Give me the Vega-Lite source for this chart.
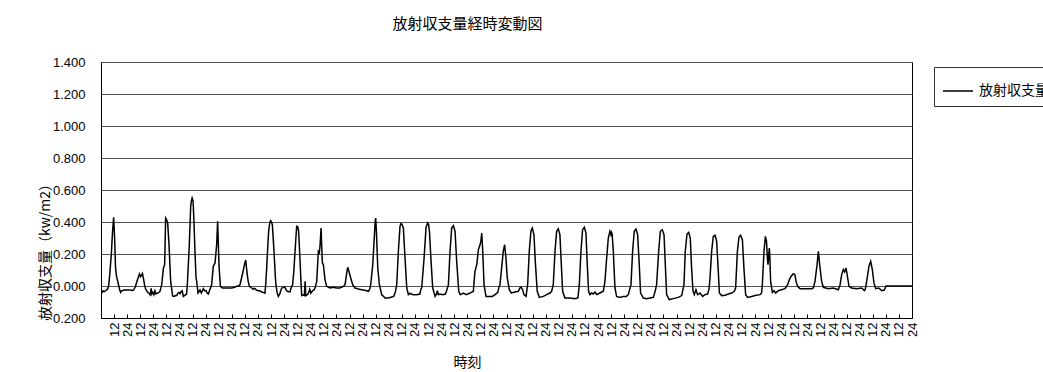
{
  "$schema": "https://vega.github.io/schema/vega-lite/v6.json",
  "width": 811,
  "height": 256,
  "autosize": {"type": "none"},
  "padding": {"left": 101, "top": 62, "right": 131, "bottom": 54},
  "background": "#ffffff",
  "title": {
    "text": "放射収支量経時変動図",
    "font": "Noto Sans CJK JP",
    "fontSize": 15,
    "fontWeight": "normal",
    "color": "#000000",
    "anchor": "middle",
    "baseline": "bottom",
    "offset": 9,
    "dx": -39
  },
  "data": {
    "values": [
      {"t":0,"v":-0.035},{"t":1,"v":-0.04},{"t":2,"v":-0.03},{"t":3,"v":-0.035},{"t":5,"v":-0.025},{"t":6,"v":-0.02},{"t":7,"v":0.0},{"t":8,"v":0.07},{"t":9.5,"v":0.2},{"t":10.5,"v":0.33},{"t":11.6,"v":0.43},{"t":12.5,"v":0.3},{"t":13.3,"v":0.12},{"t":14,"v":0.07},{"t":15,"v":0.04},{"t":16,"v":0.01},{"t":17,"v":-0.02},{"t":18,"v":-0.04},{"t":19,"v":-0.03},{"t":21,"v":-0.025},{"t":24,"v":-0.025},
      {"t":26,"v":-0.025},{"t":29,"v":-0.028},{"t":30,"v":-0.025},{"t":31.5,"v":-0.005},{"t":33,"v":0.03},{"t":34.5,"v":0.06},{"t":35.3,"v":0.075},{"t":36.2,"v":0.058},{"t":37,"v":0.065},{"t":38,"v":0.078},{"t":39,"v":0.045},{"t":40,"v":0.005},{"t":41,"v":-0.02},{"t":42,"v":-0.03},{"t":43,"v":-0.04},{"t":44,"v":-0.045},{"t":45,"v":-0.055},{"t":45.5,"v":-0.04},{"t":46,"v":-0.015},{"t":46.6,"v":-0.05},{"t":47.5,"v":-0.04},{"t":48.5,"v":-0.055},{"t":49.5,"v":-0.03},{"t":50.5,"v":-0.05},{"t":52,"v":-0.045},{"t":54,"v":-0.035},
      {"t":55.7,"v":0.008},{"t":57.2,"v":0.11},{"t":58.4,"v":0.133},{"t":59.3,"v":0.425},{"t":60.5,"v":0.41},{"t":61.2,"v":0.39},{"t":62.4,"v":0.26},{"t":63.9,"v":0.03},{"t":65.7,"v":-0.0625},{"t":67,"v":-0.065},{"t":68.5,"v":-0.06},{"t":69.5,"v":-0.06},{"t":70.5,"v":-0.045},{"t":71.5,"v":-0.04},{"t":72.5,"v":-0.048},{"t":73.5,"v":-0.035},{"t":74.5,"v":-0.03},{"t":75.5,"v":-0.065},{"t":76.5,"v":-0.06},{"t":77.5,"v":-0.055},{"t":78.5,"v":-0.05},
      {"t":79.2,"v":0.008},{"t":81,"v":0.258},{"t":82.3,"v":0.5},{"t":82.9,"v":0.53},{"t":83.6,"v":0.55},{"t":84.5,"v":0.53},{"t":85.3,"v":0.4},{"t":86.2,"v":0.217},{"t":87.2,"v":0.05},{"t":87.8,"v":0.029},{"t":89,"v":-0.044},{"t":90,"v":-0.035},{"t":90.8,"v":-0.025},{"t":92,"v":-0.044},{"t":93,"v":-0.03},{"t":93.9,"v":-0.017},{"t":95,"v":-0.03},{"t":96.3,"v":-0.029},{"t":97.5,"v":-0.045},{"t":98.5,"v":-0.05},{"t":99.5,"v":-0.03},
      {"t":101.5,"v":0.008},{"t":103,"v":0.123},{"t":104.6,"v":0.144},{"t":106.1,"v":0.258},{"t":107,"v":0.404},{"t":108.3,"v":0.123},{"t":109.5,"v":-0.002},{"t":111.3,"v":-0.0125},{"t":113,"v":-0.012},{"t":115.3,"v":-0.0125},{"t":118,"v":-0.012},{"t":119.8,"v":-0.0125},{"t":122,"v":-0.01},{"t":124.5,"v":-0.002},
      {"t":126,"v":0.0},{"t":127.5,"v":0.008},{"t":130,"v":0.081},{"t":131.5,"v":0.13},{"t":132.7,"v":0.1625},{"t":134,"v":0.081},{"t":135,"v":0.03},{"t":136.1,"v":-0.002},{"t":138.2,"v":-0.0125},{"t":139.5,"v":-0.02},{"t":140.5,"v":-0.015},{"t":141.3,"v":-0.017},{"t":142.5,"v":-0.025},{"t":144.3,"v":-0.029},{"t":145.5,"v":-0.03},
      {"t":147.4,"v":-0.0375},{"t":149,"v":-0.04},{"t":150.4,"v":-0.044},{"t":151.2,"v":0.02},{"t":152,"v":0.1125},{"t":153,"v":0.25},{"t":153.8,"v":0.342},{"t":154.7,"v":0.39},{"t":155.6,"v":0.408},{"t":156.4,"v":0.4},{"t":157.2,"v":0.383},{"t":158.7,"v":0.217},{"t":160,"v":0.05},{"t":160.5,"v":0.008},{"t":161.5,"v":-0.04},{"t":162.7,"v":-0.065},{"t":164,"v":-0.05},{"t":165.7,"v":-0.0125},{"t":167,"v":-0.01},{"t":168.5,"v":-0.005},{"t":170.3,"v":-0.029},{"t":171.5,"v":-0.035},{"t":173.4,"v":-0.0375},
      {"t":174.5,"v":-0.01},{"t":175.8,"v":0.008},{"t":177,"v":0.1},{"t":178,"v":0.217},{"t":179.5,"v":0.373},{"t":180.5,"v":0.37},{"t":181.3,"v":0.342},{"t":182.5,"v":0.175},{"t":183.3,"v":0.05},{"t":184.1,"v":-0.06},{"t":185.5,"v":-0.055},{"t":186.5,"v":-0.058},{"t":187.3,"v":0.03},{"t":187.8,"v":-0.06},{"t":189,"v":-0.055},{"t":190,"v":-0.05},{"t":191.5,"v":-0.02},{"t":192.5,"v":-0.045},{"t":194,"v":-0.03},{"t":195.5,"v":-0.025},
      {"t":196.5,"v":-0.01},{"t":197.9,"v":0.029},{"t":199.4,"v":0.217},{"t":200.3,"v":0.21},{"t":201,"v":0.258},{"t":201.9,"v":0.3625},{"t":202.4,"v":0.258},{"t":203.1,"v":0.144},{"t":204,"v":0.133},{"t":205.5,"v":0.04},{"t":207,"v":-0.002},{"t":210,"v":-0.0125},{"t":213,"v":-0.008},{"t":216,"v":-0.0125},{"t":219,"v":-0.0125},{"t":222.4,"v":-0.002},
      {"t":223.9,"v":0.008},{"t":225.4,"v":0.081},{"t":226.3,"v":0.117},{"t":227.6,"v":0.0875},{"t":229.1,"v":0.05},{"t":230.9,"v":0.008},{"t":233,"v":-0.0125},{"t":236.1,"v":-0.019},{"t":239.2,"v":-0.023},{"t":242,"v":-0.027},{"t":245.3,"v":-0.033},
      {"t":246.5,"v":-0.02},{"t":247.4,"v":0.008},{"t":249.3,"v":0.133},{"t":250.5,"v":0.279},{"t":251.5,"v":0.4},{"t":252,"v":0.425},{"t":252.6,"v":0.35},{"t":253,"v":0.279},{"t":253.9,"v":0.1125},{"t":255.4,"v":0.008},{"t":257.5,"v":-0.054},{"t":260.6,"v":-0.075},{"t":263.5,"v":-0.075},{"t":266,"v":-0.07},{"t":268.5,"v":-0.065},
      {"t":270,"v":-0.04},{"t":271.3,"v":0.008},{"t":272.8,"v":0.217},{"t":274.3,"v":0.373},{"t":275.2,"v":0.39},{"t":275.9,"v":0.3875},{"t":277.4,"v":0.3625},{"t":278.9,"v":0.175},{"t":280.5,"v":-0.0125},{"t":282,"v":-0.054},{"t":283.5,"v":-0.045},{"t":284.5,"v":-0.05},{"t":286.6,"v":-0.054},{"t":289.5,"v":-0.054},{"t":292.5,"v":-0.05},
      {"t":293.5,"v":-0.02},{"t":294.2,"v":-0.0125},{"t":296.4,"v":0.175},{"t":298.2,"v":0.367},{"t":299.7,"v":0.394},{"t":300.5,"v":0.385},{"t":301.3,"v":0.342},{"t":302.8,"v":0.154},{"t":304.3,"v":-0.0125},{"t":306.5,"v":-0.065},{"t":307.8,"v":-0.05},{"t":308.6,"v":-0.029},{"t":309.5,"v":-0.054},{"t":311,"v":-0.05},{"t":313.5,"v":-0.054},{"t":316,"v":-0.05},
      {"t":317.5,"v":-0.02},{"t":318.7,"v":0.008},{"t":320.2,"v":0.217},{"t":321.7,"v":0.3625},{"t":323.3,"v":0.377},{"t":324.8,"v":0.342},{"t":326.3,"v":0.154},{"t":328.2,"v":-0.033},{"t":329.5,"v":-0.054},{"t":331,"v":-0.05},{"t":332.5,"v":-0.045},{"t":335,"v":-0.054},{"t":338.6,"v":-0.044},{"t":341.6,"v":-0.033},
      {"t":342.3,"v":0.03},{"t":343.1,"v":0.092},{"t":344.7,"v":0.133},{"t":346.2,"v":0.227},{"t":347.7,"v":0.258},{"t":348.5,"v":0.28},{"t":349.3,"v":0.331},{"t":350.2,"v":0.217},{"t":351.4,"v":0.008},{"t":353.2,"v":-0.065},{"t":356,"v":-0.065},{"t":359,"v":-0.065},{"t":361.5,"v":-0.054},{"t":364,"v":-0.04},
      {"t":365,"v":-0.01},{"t":366,"v":0.008},{"t":367.5,"v":0.11},{"t":369,"v":0.217},{"t":370.3,"v":0.258},{"t":371.5,"v":0.175},{"t":372.7,"v":0.05},{"t":374.6,"v":-0.023},{"t":376.5,"v":-0.044},{"t":378,"v":-0.04},{"t":379.8,"v":-0.0375},{"t":382.8,"v":-0.033},{"t":384.5,"v":-0.01},{"t":385.5,"v":-0.008},{"t":386.8,"v":-0.023},{"t":388,"v":-0.054},{"t":389.9,"v":-0.065},
      {"t":391.4,"v":0.008},{"t":392.9,"v":0.217},{"t":394.4,"v":0.342},{"t":395.7,"v":0.3625},{"t":397.2,"v":0.321},{"t":398.4,"v":0.154},{"t":400.2,"v":-0.033},{"t":402.1,"v":-0.071},{"t":405.8,"v":-0.065},{"t":408.8,"v":-0.054},{"t":411.9,"v":-0.044},{"t":413.4,"v":-0.033},
      {"t":414.9,"v":0.008},{"t":416.5,"v":0.217},{"t":418,"v":0.342},{"t":419.5,"v":0.358},{"t":421,"v":0.321},{"t":422.3,"v":0.133},{"t":423.5,"v":-0.033},{"t":425.6,"v":-0.075},{"t":430.2,"v":-0.075},{"t":434.8,"v":-0.079},{"t":437.5,"v":-0.075},
      {"t":438.8,"v":0.008},{"t":440.3,"v":0.217},{"t":441.8,"v":0.352},{"t":443.4,"v":0.367},{"t":444.9,"v":0.331},{"t":446.1,"v":0.133},{"t":447.3,"v":-0.033},{"t":448.5,"v":-0.054},{"t":450.1,"v":-0.044},{"t":451.6,"v":-0.05},{"t":453.2,"v":-0.038},{"t":454.8,"v":-0.054},{"t":457.7,"v":-0.044},{"t":460.8,"v":-0.033},
      {"t":462.3,"v":0.029},{"t":463.9,"v":0.175},{"t":465.4,"v":0.3},{"t":466.9,"v":0.342},{"t":467.8,"v":0.321},{"t":468.3,"v":0.335},{"t":468.9,"v":0.325},{"t":470,"v":0.217},{"t":471.5,"v":-0.0125},{"t":473,"v":-0.065},{"t":476,"v":-0.071},{"t":479.1,"v":-0.065},{"t":482,"v":-0.065},{"t":483.7,"v":-0.054},
      {"t":486.2,"v":0.008},{"t":487.7,"v":0.217},{"t":489.2,"v":0.342},{"t":490.8,"v":0.356},{"t":492.3,"v":0.321},{"t":493.8,"v":0.133},{"t":495,"v":-0.044},{"t":497.5,"v":-0.075},{"t":500.5,"v":-0.079},{"t":503.6,"v":-0.075},{"t":506.7,"v":-0.071},
      {"t":508.5,"v":-0.03},{"t":509.7,"v":0.008},{"t":511.6,"v":0.217},{"t":513.1,"v":0.342},{"t":514.9,"v":0.352},{"t":516.5,"v":0.321},{"t":517.7,"v":0.133},{"t":518.9,"v":-0.054},{"t":521.3,"v":-0.085},{"t":525,"v":-0.079},{"t":529.6,"v":-0.071},{"t":532.7,"v":-0.06},
      {"t":534.8,"v":0.008},{"t":536,"v":0.217},{"t":537.6,"v":0.325},{"t":539.1,"v":0.335},{"t":540.6,"v":0.3},{"t":541.8,"v":0.112},{"t":543.1,"v":-0.033},{"t":544.3,"v":-0.054},{"t":545.8,"v":-0.023},{"t":547.3,"v":-0.054},{"t":549.5,"v":-0.044},{"t":552,"v":-0.065},
      {"t":554.1,"v":-0.054},{"t":556.5,"v":-0.05},{"t":557.8,"v":-0.02},{"t":558.7,"v":0.05},{"t":560.2,"v":0.217},{"t":561.7,"v":0.31},{"t":563.3,"v":0.317},{"t":564.8,"v":0.279},{"t":566.3,"v":0.092},{"t":567.3,"v":-0.044},{"t":569.4,"v":-0.06},{"t":572.5,"v":-0.058},{"t":575.5,"v":-0.05},{"t":578.6,"v":-0.044},{"t":581,"v":-0.033},
      {"t":582.2,"v":-0.0125},{"t":583.8,"v":0.217},{"t":585.3,"v":0.306},{"t":586.8,"v":0.317},{"t":588.4,"v":0.29},{"t":589.9,"v":0.102},{"t":591.4,"v":-0.054},{"t":593.2,"v":-0.071},{"t":597,"v":-0.065},{"t":600,"v":-0.06},{"t":604.6,"v":-0.054},{"t":606,"v":-0.044},
      {"t":606.7,"v":0.008},{"t":608.2,"v":0.217},{"t":609.5,"v":0.31},{"t":610.5,"v":0.28},{"t":611.4,"v":0.17},{"t":611.9,"v":0.133},{"t":612.6,"v":0.2},{"t":613.1,"v":0.2375},{"t":613.5,"v":0.2},{"t":614.3,"v":0.029},{"t":615.9,"v":-0.04},{"t":617.4,"v":-0.029},{"t":618.9,"v":-0.044},{"t":621.4,"v":-0.029},{"t":624.4,"v":-0.023},{"t":627.5,"v":-0.017},{"t":629.9,"v":0.008},
      {"t":631.5,"v":0.04},{"t":633,"v":0.06},{"t":635.1,"v":0.077},{"t":636.6,"v":0.071},{"t":637.6,"v":0.029},{"t":639.1,"v":-0.002},{"t":641.3,"v":-0.017},{"t":646,"v":-0.017},{"t":652,"v":-0.017},
      {"t":653.5,"v":-0.0125},{"t":655,"v":0.029},{"t":656.9,"v":0.133},{"t":658.1,"v":0.217},{"t":659.3,"v":0.133},{"t":661.1,"v":0.029},{"t":662.7,"v":-0.008},{"t":667.2,"v":-0.017},{"t":671.8,"v":-0.0125},{"t":676.4,"v":-0.023},
      {"t":678,"v":0.008},{"t":679.5,"v":0.071},{"t":681,"v":0.102},{"t":682.2,"v":0.0875},{"t":683.5,"v":0.1125},{"t":685,"v":0.05},{"t":686.2,"v":-0.002},{"t":688.6,"v":-0.0125},{"t":693.2,"v":-0.017},{"t":697.8,"v":-0.0125},{"t":700.3,"v":-0.029},{"t":701.2,"v":-0.02},
      {"t":702.4,"v":0.029},{"t":704.5,"v":0.123},{"t":706.1,"v":0.154},{"t":707.6,"v":0.102},{"t":709.1,"v":0.019},{"t":710.7,"v":-0.017},{"t":713.5,"v":-0.0125},{"t":716.2,"v":-0.029},{"t":718.6,"v":-0.025},{"t":720.1,"v":0.0},{"t":744,"v":0.0}
    ]
  },
  "mark": {"type": "line", "strokeWidth": 1.5, "interpolate": "linear", "clip": true},
  "encoding": {
    "x": {
      "field": "t",
      "type": "quantitative",
      "scale": {"domain": [0, 744], "nice": false, "zero": false},
      "axis": {
        "title": "時刻",
        "titleFont": "Noto Sans CJK JP",
        "titleFontSize": 14,
        "titleFontWeight": "normal",
        "titleColor": "#000000",
        "titleX": 366,
        "titleY": 44,
        "titleAlign": "center",
        "titleBaseline": "middle",
        "values": [12,24,36,48,60,72,84,96,108,120,132,144,156,168,180,192,204,216,228,240,252,264,276,288,300,312,324,336,348,360,372,384,396,408,420,432,444,456,468,480,492,504,516,528,540,552,564,576,588,600,612,624,636,648,660,672,684,696,708,720,732,744],
        "labelExpr": "datum.value % 24 === 0 ? '24' : '12'",
        "labelAngle": -90,
        "labelFont": "Liberation Sans",
        "labelFontSize": 13,
        "labelColor": "#000000",
        "labelOverlap": false,
        "labelBound": false,
        "labelFlush": false,
        "labelPadding": 8,
        "tickSize": -4,
        "tickColor": "#000000",
        "domainColor": "#000000",
        "grid": false
      }
    },
    "y": {
      "field": "v",
      "type": "quantitative",
      "scale": {"domain": [-0.2, 1.4], "nice": false, "zero": false},
      "axis": {
        "title": "放射収支量（kw/m2）",
        "titleFont": "Noto Sans CJK JP",
        "titleFontSize": 14,
        "titleFontWeight": "normal",
        "titleColor": "#000000",
        "titleAngle": -90,
        "titleX": -56,
        "titleY": 186,
        "titleAlign": "center",
        "titleBaseline": "middle",
        "values": [-0.2, 0, 0.2, 0.4, 0.6, 0.8, 1.0, 1.2, 1.4],
        "labelExpr": "datum.value < 0 ? '- ' + format(-datum.value, '.3f') : format(datum.value, '.3f')",
        "labelFont": "Liberation Sans",
        "labelFontSize": 13,
        "labelColor": "#000000",
        "labelPadding": 16,
        "ticks": false,
        "domainColor": "#000000",
        "grid": true,
        "gridColor": "#555555",
        "gridWidth": 1
      }
    },
    "color": {
      "datum": "放射収支量",
      "type": "nominal",
      "scale": {"range": ["#000000"]},
      "legend": {
        "title": null,
        "orient": "none",
        "legendX": 833,
        "legendY": 5,
        "strokeColor": "#333333",
        "fillColor": "#ffffff",
        "padding": 8,
        "symbolType": "stroke",
        "symbolSize": 900,
        "symbolStrokeWidth": 1.5,
        "labelFont": "Noto Sans CJK JP",
        "labelFontSize": 14,
        "labelColor": "#000000",
        "labelOffset": 5,
        "labelLimit": 300
      }
    }
  },
  "config": {
    "view": {"stroke": "#000000", "strokeWidth": 1}
  }
}
